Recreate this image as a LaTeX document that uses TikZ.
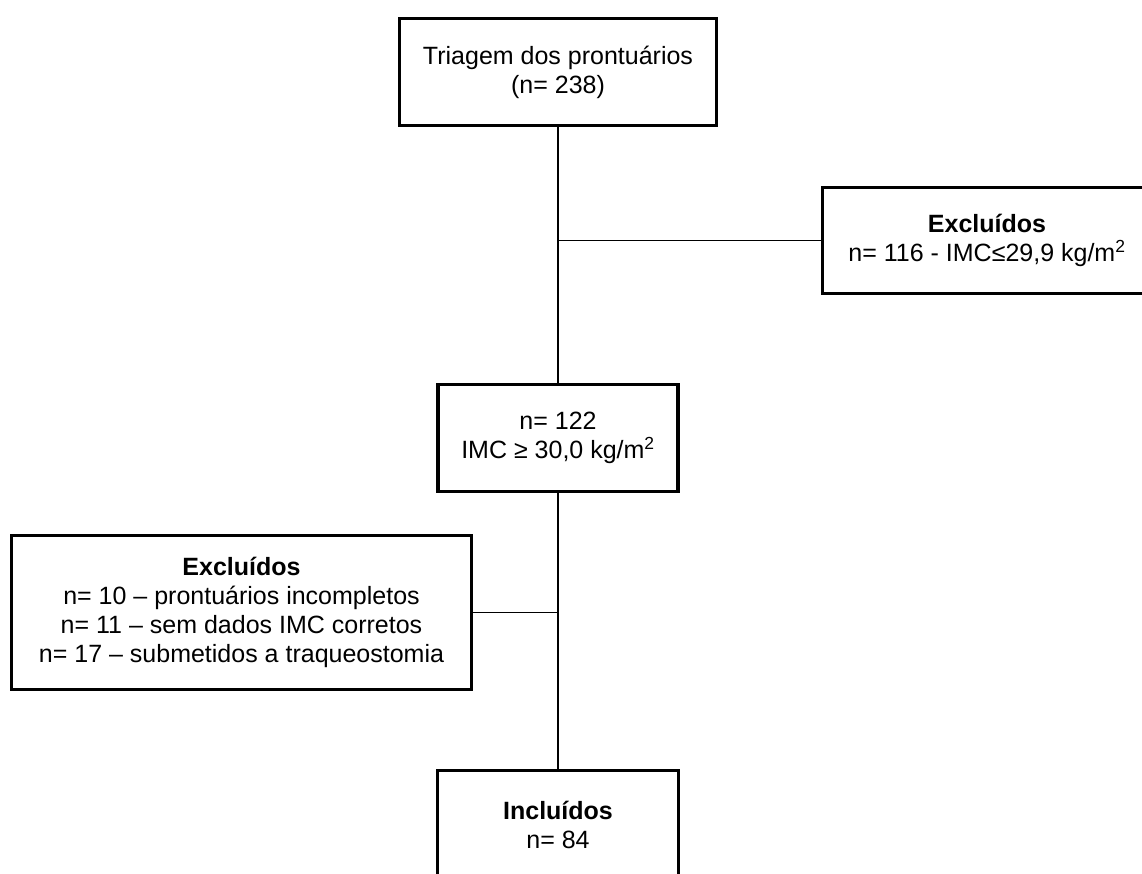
\documentclass[tikz,border=0pt]{standalone}
\usepackage{fontspec}
\setmainfont{Liberation Sans}
\usetikzlibrary{positioning}
\tikzset{
  box/.style={rectangle, draw, line width=3.5pt, align=center, inner sep=0pt,
              font=\fontsize{25}{29}\selectfont, fill=white},
  link/.style={line width=1.2pt}
}

\begin{document}
\begin{tikzpicture}[x=1pt,y=-1pt]
  \useasboundingbox (0,0) rectangle (1142,874);
  \node[box, minimum width=317pt, minimum height=107pt] (triagem) at (558,72)
    {Triagem dos prontuários\\(n= 238)};
  \node[box, minimum width=329pt, minimum height=106pt] (excl1) at (987,240.5)
    {\textbf{Excluídos}\\n= 116 - IMC≤29,9 kg/m\textsuperscript{2}};
  \node[box, minimum width=240pt, minimum height=107pt] (n122) at (558,438)
    {n= 122\\IMC ≥ 30,0 kg/m\textsuperscript{2}};
  \node[box, minimum width=460pt, minimum height=154pt] (excl2) at (241.5,612.5)
    {\textbf{Excluídos}\\n= 10 – prontuários incompletos\\n= 11 – sem dados IMC corretos\\n= 17 – submetidos a traqueostomia};
  \node[box, minimum width=241pt, minimum height=109pt] (incl) at (558,825)
    {\textbf{Incluídos}\\n= 84};
  % links
  \foreach \a/\b in {triagem/n122, n122/incl} \draw[link] (\a.south) -- (\b.north);
  \draw[link] (excl1.west) -- (excl1.west -| triagem.south);
  \draw[link] (excl2.east) -- (excl2.east -| n122.south);
\end{tikzpicture}
\end{document}
